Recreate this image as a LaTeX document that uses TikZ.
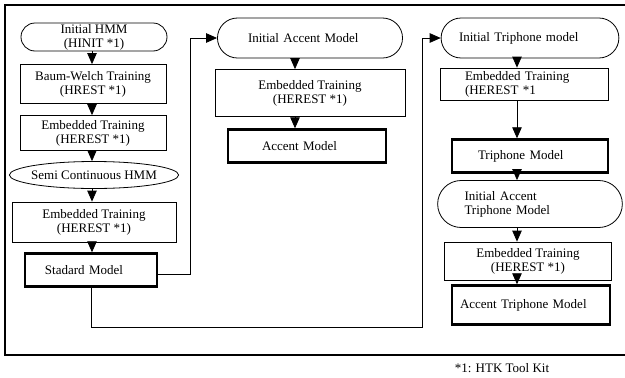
\documentclass[tikz,border=0pt]{standalone}
\usepackage{fontspec}
\setmainfont{Liberation Serif}
\usetikzlibrary{arrows.meta,shapes.misc,shapes.geometric}
\tikzset{
  base/.style={draw,line width=0.8pt,inner sep=0pt,align=center,font=\fontsize{13}{14}\selectfont},
  procbox/.style={base,rectangle},
  modelbox/.style={base,rectangle,line width=2.4pt},
  termbox/.style={base,rounded rectangle},
  lefttext/.style={align=left,inner xsep=#1},
  arr/.style={line width=0.8pt,-{Triangle[length=11pt,width=9.5pt]}},
}
\begin{document}
\begin{tikzpicture}[yscale=-1,x=1pt,y=1pt]
    \useasboundingbox (0,0) rectangle (625,378);
    \draw[line width=1.1pt] (625,5) -- (5,5) -- (5,355) -- (625,355);

    \node[termbox,minimum width=146,minimum height=28] (hinit) at (94,37) {Initial HMM\\(HINIT *1)};
    \node[procbox,minimum width=146,minimum height=39] (bw) at (93,84) {Baum-Welch Training\\(HREST *1)};
    \node[procbox,minimum width=146,minimum height=35] (emb1) at (93,133) {Embedded Training\\(HEREST *1)};
    \node[base,ellipse,inner xsep=-3pt,minimum height=27] (semi) at (94,175) {Semi Continuous HMM};
    \node[procbox,minimum width=164,minimum height=40] (emb2) at (94,222) {Embedded Training\\(HEREST *1)};
    \node[modelbox,lefttext=20pt,text width=92,minimum height=33] (std) at (91,270) {Stadard Model};

    \node[termbox,lefttext=30pt,text width=124,minimum height=40] (iacc) at (310,38) {Initial Accent Model};
    \node[procbox,minimum width=190,minimum height=47] (emb3) at (310,93) {Embedded Training\\(HEREST *1)};
    \node[modelbox,lefttext=34pt,text width=90,minimum height=33] (acc) at (307,146) {Accent Model};

    \node[termbox,lefttext=17pt,text width=142,minimum height=40] (itri) at (530,38) {Initial Triphone model};
    \node[procbox,lefttext=25pt,text width=118,minimum height=32] (emb4) at (524,84) {Embedded Training\\(HEREST *1};
    \node[modelbox,lefttext=26pt,text width=104,minimum height=33] (tri) at (530,156) {Triphone Model};
    \node[termbox,lefttext=23pt,text width=131,minimum height=47] (iat) at (530,204) {Initial Accent\\Triphone Model};
    \node[procbox,minimum width=167,minimum height=38] (emb5) at (528,261) {Embedded Training\\(HEREST *1)};
    \node[modelbox,lefttext=8pt,text width=142,minimum height=39] (atri) at (531,305) {Accent Triphone Model};

    \node[font=\fontsize{13}{14}\selectfont,inner sep=0pt] (note) at (502,368) {*1: HTK Tool Kit};

    \coordinate (colA) at (92,0);
    \coordinate (colB) at (295,0);
    \coordinate (colC) at (517,0);
    \coordinate (up1) at (190,0);
    \coordinate (low) at (422,327);

    \foreach \a/\b in {hinit/bw,bw/emb1,emb1/semi,semi/emb2,emb2/std}
      \draw[arr] (colA |- \a.south) -- (colA |- \b.north);
    \foreach \a/\b in {iacc/emb3,emb3/acc}
      \draw[arr] (colB |- \a.south) -- (colB |- \b.north);
    \foreach \a/\b in {itri/emb4,emb4/tri,tri/iat,iat/emb5,emb5/atri}
      \draw[arr] (colC |- \a.south) -- (colC |- \b.north);

    \draw[arr] ([yshift=4]std.east) -- ([yshift=4]std.east -| up1) |- (iacc.west);
    \draw[arr] (std.south) |- (low) |- (itri.west);
\end{tikzpicture}
\end{document}
